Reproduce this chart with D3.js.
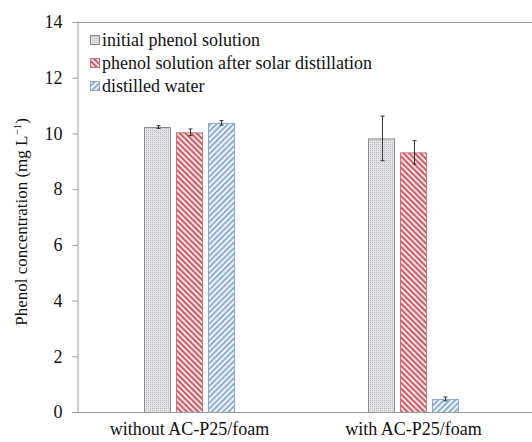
<!DOCTYPE html>
<html><head><meta charset="utf-8">
<script src="https://cdn.jsdelivr.net/npm/d3@7"></script>
<style>body{margin:0;background:#fff}svg{display:block}</style>
</head><body>
<script>
const categories = ["without AC-P25/foam", "with AC-P25/foam"];
const seriesNames = ["initial phenol solution", "phenol solution after solar distillation", "distilled water"];
const initialValues = [10.23, 9.82];
const initialErrors = [0.05, 0.8];
const afterValues = [10.04, 9.32];
const afterErrors = [0.12, 0.42];
const waterValues = [10.38, 0.47];
const waterErrors = [0.08, 0.07];
const yTicks = [0, 2, 4, 6, 8, 10, 12, 14];

function pickFont(list) {
  const c = document.createElement("canvas").getContext("2d");
  const probe = "initial phenol solution WMli 0123";
  for (const f of list) {
    let differs = false;
    for (const base of ["monospace", "sans-serif"]) {
      c.font = "40px " + base;
      const w0 = c.measureText(probe).width;
      c.font = "40px '" + f + "', " + base;
      const w1 = c.measureText(probe).width;
      if (Math.abs(w1 - w0) > 0.5) differs = true; else { differs = false; break; }
    }
    if (differs) return f;
  }
  return null;
}
const picked = pickFont(["Liberation Serif", "Times New Roman", "Tinos", "DejaVu Serif", "Noto Serif", "FreeSerif"]);
const FONT = (picked ? "'" + picked + "', " : "") + "serif";

const W = 532, H = 442;
const svg = d3.select("body").append("svg").attr("width", W).attr("height", H)
  .attr("font-family", FONT);
const defs = svg.append("defs");

// patterns
const pg = defs.append("pattern").attr("id","pGray").attr("patternUnits","userSpaceOnUse").attr("width",2).attr("height",2);
pg.append("rect").attr("width",2).attr("height",2).attr("fill","#e4e4e8");
pg.append("rect").attr("width",1).attr("height",1).attr("fill","#b8b8bc");
const pr = defs.append("pattern").attr("id","pRed").attr("patternUnits","userSpaceOnUse").attr("width",4).attr("height",4).attr("patternTransform","rotate(-45)");
pr.append("rect").attr("width",4).attr("height",4).attr("fill","#f6e4e4");
pr.append("rect").attr("width",1.8).attr("height",4).attr("fill","#c8505a");
const pb = defs.append("pattern").attr("id","pBlue").attr("patternUnits","userSpaceOnUse").attr("width",4).attr("height",4).attr("patternTransform","rotate(45)");
pb.append("rect").attr("width",4).attr("height",4).attr("fill","#eef3fa");
pb.append("rect").attr("width",1.6).attr("height",4).attr("fill","#7d9fcc");

const fills = ["url(#pGray)","url(#pRed)","url(#pBlue)"];
const strokes = ["#8a8a8a","#d07078","#8aa8d0"];

const series = [
  {name: seriesNames[0], values: initialValues, errors: initialErrors},
  {name: seriesNames[1], values: afterValues, errors: afterErrors},
  {name: seriesNames[2], values: waterValues, errors: waterErrors}
];

const y = d3.scaleLinear().domain([0,14]).range([412, 22]);
const x0 = d3.scaleBand().domain(categories).range([77.5, 525.5]).paddingInner(0).paddingOuter(0);
const groupW = 91;
const x1 = d3.scaleBand().domain(seriesNames).range([0, groupW]).paddingInner(0.156);
const groupOffset = (x0.bandwidth() - groupW) / 2;

// frame top line
svg.append("line").attr("x1",73).attr("x2",W).attr("y1",22.5).attr("y2",22.5).attr("stroke","#9a9a9a").attr("stroke-width",1);

// y axis
const yAxis = svg.append("g").attr("transform","translate(77.5,0)")
  .call(d3.axisLeft(y).tickValues(yTicks).tickSize(5).tickPadding(10).tickFormat(d3.format("d")));
yAxis.attr("font-family", FONT);
yAxis.select(".domain").attr("stroke","#9a9a9a");
yAxis.selectAll(".tick line").attr("stroke","#9a9a9a");
yAxis.selectAll("text").attr("font-size",18).attr("fill","#111").attr("font-family", FONT);

// bars
series.forEach((s, si) => {
  const g = svg.append("g");
  categories.forEach((c, ci) => {
    const bx = x0(c) + groupOffset + x1(s.name);
    const bw = x1.bandwidth();
    g.append("rect").attr("x", Math.round(bx)+0.5).attr("y", y(s.values[ci])+0.5)
      .attr("width", Math.round(bw)-1).attr("height", y(0)-y(s.values[ci]))
      .attr("fill", fills[si]).attr("stroke", strokes[si]).attr("stroke-width",1);
    const cx = Math.round(bx + bw/2) + 0.5;
    const lo = y(s.values[ci] - s.errors[ci]), hi = y(s.values[ci] + s.errors[ci]);
    g.append("line").attr("x1",cx).attr("x2",cx).attr("y1",lo).attr("y2",hi).attr("stroke","#333").attr("stroke-width",1);
    [lo, hi].forEach(v => g.append("line").attr("x1",cx-2).attr("x2",cx+2).attr("y1",v).attr("y2",v).attr("stroke","#333").attr("stroke-width",1));
  });
});

// x axis
const xAxis = svg.append("g").attr("transform","translate(0,412.5)")
  .call(d3.axisBottom(x0).tickSize(0).tickPadding(10));
xAxis.attr("font-family", FONT);
xAxis.select(".domain").attr("stroke","#9a9a9a").attr("d","M72,0H532");
xAxis.selectAll("text").attr("font-size",18).attr("fill","#111").attr("font-family", FONT);

// y label
svg.append("text").attr("transform","translate(27,222) rotate(-90)").attr("text-anchor","middle")
  .attr("font-size",17).attr("fill","#111").attr("font-family", FONT)
  .html('Phenol concentration (mg L<tspan dy="-6" font-size="11">\u22121</tspan><tspan dy="6">)</tspan>');

// legend
const leg = svg.append("g");
series.forEach((s, i) => {
  const ly = 41 + i*23;
  leg.append("rect").attr("x",90.5).attr("y",ly-5.5).attr("width",9).attr("height",9)
    .attr("fill",fills[i]).attr("stroke",strokes[i]);
  leg.append("text").attr("x",102).attr("y",ly+5).attr("font-size",18).attr("fill","#111")
    .attr("font-family", FONT).text(s.name);
});
</script>
</body></html>
